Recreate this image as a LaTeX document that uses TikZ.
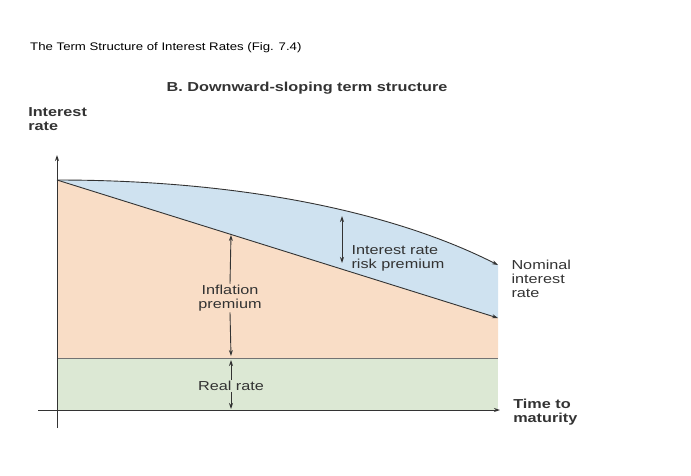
\documentclass[tikz,border=0pt]{standalone}
\usepackage{fontspec}
\setmainfont{Liberation Sans}
\usetikzlibrary{arrows.meta}
\begin{document}
\begin{tikzpicture}[x=1pt,y=-1pt,
  lbl/.style={font=\fontsize{13}{14}\selectfont,text=black!80,align=left,inner sep=1pt,xscale=1.25},
  bold/.style={font=\fontsize{13}{14}\selectfont\bfseries,text=black!80,align=left,inner sep=0pt,xscale=1.25},
  arr/.style={-{Stealth[length=6pt,width=4pt]},black!80,line width=0.9pt},
  ln/.style={black!75,line width=0.9pt}]
\useasboundingbox (0,0) rectangle (691,475);
\coordinate (O) at (57,180);
\coordinate (N) at (498,265);
\coordinate (S) at (498,318);
% fills
\fill[fill={rgb,255:red,220;green,232;blue,212}] (57,358) rectangle (498,410);
\fill[fill={rgb,255:red,249;green,221;blue,198}] (O) -- (S) -- (498,358) -- (57,358) -- cycle;
\fill[fill={rgb,255:red,207;green,226;blue,240}] (O) .. controls (250,180) and (400,215) .. (N) -- (S) -- cycle;
% curves
\draw[arr] (O) .. controls (250,180) and (400,215) .. (N);
\draw[arr] (O) -- (S);
\draw[ln,black!55] (57,358) -- (498,358);
% axes
\coordinate (ybot) at (57,428);
\coordinate (ytop) at (57,155);
\coordinate (xl) at (38,410);
\coordinate (xr) at (500,410);
\draw[arr] (ybot) -- (ytop);
\draw[arr] (xl) -- (xr);
% texts
\node[anchor=west,inner sep=0pt,font=\fontsize{11}{12}\selectfont,xscale=1.2] (title) at (30,48) {The Term Structure of Interest Rates (Fig. 7.4)};
\node[bold] (head) at (307,88) {B. Downward-sloping term structure};
\node[bold,anchor=north west] (ylab) at (28,107) {Interest\\rate};
\node[bold,anchor=north west] (xlab) at (513,399) {Time to\\maturity};
\node[lbl,anchor=north west] (nom) at (510,259) {Nominal\\interest\\rate};
\node[lbl,anchor=north west] (irp) at (350,244) {Interest rate\\risk premium};
\node[lbl,align=center] (inf) at (230,298) {Inflation\\premium};
\node[lbl] (real) at (231,386) {Real rate};
% markers
\coordinate (irpT) at (342,216);
\coordinate (irpB) at (342,263);
\draw[arr,{Stealth[length=6pt,width=4pt]}-{Stealth[length=6pt,width=4pt]}] (irpT) -- (irpB);
\coordinate (infT) at (231,235);
\coordinate (infB) at (231,356);
\draw[arr] (inf.north) -- (infT);
\draw[arr] (inf.south) -- (infB);
\coordinate (rT) at (231,360);
\coordinate (rB) at (231,409);
\draw[arr] (real.north) -- (rT);
\draw[arr] (real.south) -- (rB);
\end{tikzpicture}
\end{document}
